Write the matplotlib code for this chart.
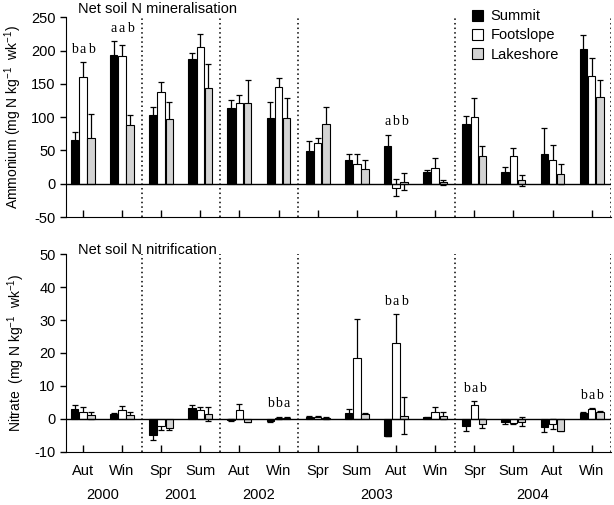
import matplotlib
matplotlib.use("Agg")
import matplotlib.pyplot as plt
import numpy as np

plt.rcParams['font.family'] = ['Liberation Sans', 'DejaVu Sans']
plt.rcParams['axes.unicode_minus'] = False
plt.rcParams['mathtext.fontset'] = 'custom'
plt.rcParams['mathtext.rm'] = 'Liberation Sans'
plt.rcParams['mathtext.default'] = 'regular'

seasons = ["Aut", "Win", "Spr", "Sum", "Aut", "Win", "Spr", "Sum", "Aut", "Win", "Spr", "Sum", "Aut", "Win"]
years = ["2000", "2001", "2002", "2003", "2004"]
year_spans = [(0, 1), (2, 3), (4, 5), (6, 9), (10, 13)]
separators = [1.5, 3.5, 5.5, 9.5, 13.5]
sites = ["Summit", "Footslope", "Lakeshore"]

# Ammonium (net mineralisation)
nh4_summit = [66, 193, 103, 187, 114, 99, 49, 35, 56, 17, 90, 18, 45, 203]
nh4_summit_err = [12, 22, 12, 9, 11, 24, 15, 10, 17, 3, 11, 7, 39, 21]
nh4_foot = [160, 191, 137, 206, 121, 145, 61, 30, -6, 24, 100, 42, 36, 162]
nh4_foot_err = [22, 18, 15, 19, 12, 13, 8, 14, 13, 14, 28, 11, 22, 27]
nh4_lake = [69, 88, 97, 144, 121, 98, 89, 22, 3, 2, 41, 5, 14, 130]
nh4_lake_err = [35, 15, 25, 35, 35, 31, 26, 13, 13, 4, 16, 8, 15, 26]

# Nitrate (net nitrification)
no3_summit = [3.0, 1.5, -5.0, 3.3, -0.3, -0.7, 0.5, 1.9, -5.2, 0.5, -2.2, -1.0, -2.4, 1.8]
no3_summit_err = [1.2, 0.4, 1.5, 1.0, 0.2, 0.1, 0.3, 1.1, 0.1, 0.2, 1.4, 0.5, 1.6, 0.4]
no3_foot = [2.1, 2.6, -2.2, 2.8, 2.6, 0.3, 0.7, 18.6, 23.0, 2.1, 4.3, -1.2, -1.5, 3.1]
no3_foot_err = [1.4, 1.2, 1.1, 0.8, 2.0, 0.2, 0.3, 11.7, 8.7, 1.5, 1.1, 0.3, 1.5, 0.2]
no3_lake = [1.1, 1.2, -2.8, 1.5, -0.8, 0.4, 0.3, 1.5, 1.0, 1.0, -1.4, -0.8, -3.5, 2.0]
no3_lake_err = [1.1, 0.8, 0.5, 2.2, 0.2, 0.1, 0.2, 0.3, 5.6, 1.0, 1.3, 1.3, 0.2, 0.3]

top_letters = {0: ("b", "a", "b", 192), 1: ("a", "a", "b", 224), 8: ("a", "b", "b", 83)}
bot_letters = {5: ("b", "b", "a", 2.8), 8: ("b", "a", "b", 33.6), 10: ("b", "a", "b", 7.4), 13: ("b", "a", "b", 5.1)}

colors = ["black", "white", "#d3d3d3"]
offsets = [-0.21, 0.0, 0.21]
bw = 0.19

fig = plt.figure(figsize=(6.14, 5.05), dpi=100)
ax1 = fig.add_axes([0.1075, 0.570, 0.888, 0.396])
ax2 = fig.add_axes([0.1075, 0.105, 0.888, 0.392])

x = np.arange(len(seasons))


def draw(ax, series, errs, letters, ylim, yticks, ylabel, title, title_y):
    for k in range(3):
        xs = x + offsets[k]
        ax.errorbar(xs, series[k], yerr=errs[k], fmt='none', ecolor='black',
                    elinewidth=0.9, capsize=2.2, capthick=0.9, zorder=1)
        ax.bar(xs, series[k], width=bw, color=colors[k], edgecolor='black',
               linewidth=0.8, zorder=2, label=sites[k])
    ax.axhline(0, color='black', lw=1.0, zorder=3)
    for s in separators:
        ax.axvline(s, color='black', lw=1.1, ls=(0, (1, 2.0)), zorder=0)
    for i, (a, b, c, yv) in letters.items():
        for k, t in enumerate((a, b, c)):
            ax.text(x[i] + offsets[k], yv, t, ha='center', va='bottom',
                    family='Liberation Serif', fontsize=10)
    ax.set_xlim(-0.43, 13.5)
    ax.set_ylim(*ylim)
    ax.set_yticks(yticks)
    ax.set_xticks(x)
    ax.spines['top'].set_visible(False)
    ax.spines['right'].set_visible(False)
    ax.tick_params(axis='y', direction='out', length=4, labelsize=10.5, width=1)
    ax.tick_params(axis='x', direction='in', length=5, width=1)
    ax.set_ylabel(ylabel, fontsize=10, labelpad=5)
    ax.text(0.022, title_y, title, transform=ax.transAxes, fontsize=10.5,
            ha='left', va='center')


draw(ax1, [nh4_summit, nh4_foot, nh4_lake], [nh4_summit_err, nh4_foot_err, nh4_lake_err],
     top_letters, (-50, 250), [-50, 0, 50, 100, 150, 200, 250],
     "Ammonium (mg N kg$^{-1}$  wk$^{-1}$)", "Net soil N mineralisation", 1.04)
ax1.set_xticklabels([])
ax1.legend(loc='upper left', bbox_to_anchor=(0.72, 1.105), frameon=False, fontsize=10.5,
           handlelength=0.8, handleheight=0.8, handletextpad=0.5, labelspacing=0.35)

draw(ax2, [no3_summit, no3_foot, no3_lake], [no3_summit_err, no3_foot_err, no3_lake_err],
     bot_letters, (-10, 50), [-10, 0, 10, 20, 30, 40, 50],
     "Nitrate  (mg N kg$^{-1}$  wk$^{-1}$)", "Net soil N nitrification", 1.02)
ax2.set_xticklabels(seasons, fontsize=10.5)
ax2.tick_params(axis='x', pad=9)
for (a, b), yr in zip(year_spans, years):
    ax2.text((a + b) / 2, -0.215, yr, transform=ax2.get_xaxis_transform(),
             ha='center', va='center', fontsize=10.5)

fig.savefig("out.png", dpi=100)
